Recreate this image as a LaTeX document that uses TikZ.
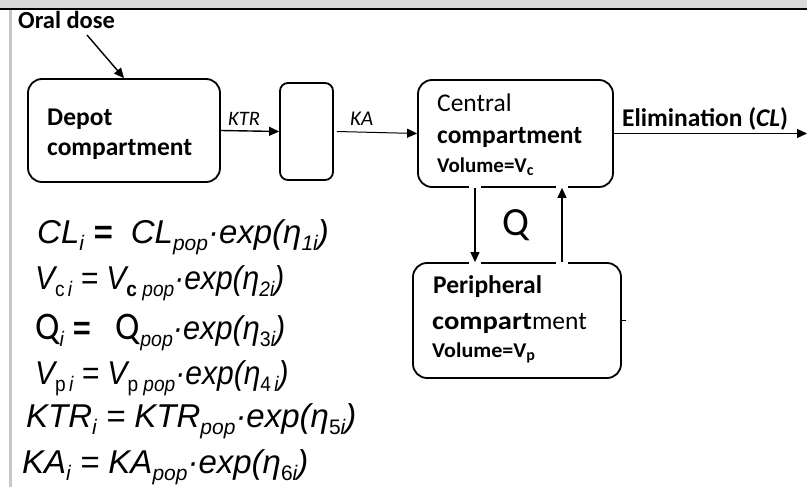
\documentclass[tikz,border=0pt]{standalone}
\usepackage{fontspec}
\usepackage{graphicx}
\setmainfont{Carlito}
\newfontfamily\arialf{Liberation Sans}
\usetikzlibrary{arrows.meta}
\newcommand\esub[1]{\raisebox{-7pt}{\fontsize{21}{21}\selectfont #1}}
\newcommand\vsub[1]{\raisebox{-3pt}{\fontsize{16}{16}\selectfont #1}}
\begin{document}
\begin{tikzpicture}[x=1pt,y=-1pt,
  box/.style={draw=black, line width=1.8pt, rounded corners=14pt, inner sep=0pt},
  arr/.style={line width=1.4pt, -{Triangle[length=10pt,width=9pt]}},
  lbl/.style={anchor=base west, inner sep=0pt},
  bigb/.style={font=\bfseries\fontsize{25.5}{28}\selectfont},
  bigr/.style={font=\fontsize{25.5}{28}\selectfont},
  vol/.style={font=\bfseries\fontsize{21}{24}\selectfont},
  eqn/.style={anchor=base west, inner sep=0pt, font=\arialf\itshape\fontsize{33}{36}\selectfont},
]
\useasboundingbox (0,0) rectangle (807,487);
\fill[white] (0,0) rectangle (807,487);
\fill[black!15] (0,0) rectangle (807,8);
\draw[line width=2pt] (0,9) -- (807,9);
\draw[black!22, line width=3pt] (10,10) -- (10,487);

% boxes
\node[box, minimum width=192pt, minimum height=103pt] (depot) at (124,130.5) {};
\node[box, rounded corners=8pt, minimum width=53pt, minimum height=97pt] (trans) at (306.5,131.5) {};
\node[box, minimum width=195pt, minimum height=107pt] (central) at (515.5,133.5) {};
\node[box, minimum width=208pt, minimum height=115pt] (periph) at (517,320.5) {};

% texts
\node[lbl, font=\bfseries\fontsize{24.5}{28}\selectfont] (oral) at (18,29) {Oral dose};
\node[lbl, bigb] (dep1) at (47,125) {Depot};
\node[lbl, bigb] (dep2) at (47,156) {compartment};
\node[lbl, font=\itshape\fontsize{20.5}{24}\selectfont] (ktr) at (228,125) {KTR};
\node[lbl, font=\itshape\fontsize{21}{24}\selectfont] (ka) at (350,125) {KA};
\node[lbl, bigr] (cen1) at (437,112) {Central};
\node[lbl, bigb] (cen2) at (437,143) {compartment};
\node[lbl, vol] (cen3) at (437,172) {Volume=V\vsub{c}};
\node[lbl, bigb] (elim) at (622,127) {Elimination (\textit{CL})};
\node[lbl, font=\fontsize{40}{44}\selectfont] (qlbl) at (502,235) {Q};
\node[lbl, bigb] (per1) at (433,293) {Peripheral};
\node[lbl, bigr] (per2) at (432,329) {\textbf{\scalebox{1.12}[1]{compart}}ment};
\node[lbl, vol] (per3) at (432,357) {\scalebox{1.05}[1]{Volume=V}\vsub{p}};

% connectors
\coordinate (od) at (87,35);
\draw[arr] (od) -- (depot.north);
\draw[arr] (depot.east) -- (trans.west);
\draw[arr, line width=1pt] ([xshift=3pt]trans.east) -- (central.west);
\coordinate (elimend) at (807,133.5);
\draw[arr] (central.east) -- (elimend);

\coordinate (qd) at (475,0);
\coordinate (qu) at (562,0);
\fill[white] (469,183) rectangle (481,191);
\fill[white] (556,183) rectangle (568,191);
\fill[white] (469,259) rectangle (481,267);
\fill[white] (556,259) rectangle (568,267);
\draw[arr, line width=1.2pt] (central.south -| qd) -- (periph.north -| qd);
\draw[arr, line width=1.2pt] (periph.north -| qu) -- (central.south -| qu);
\draw[line width=1.2pt] (periph.east) -- ++(4,0);

% equations
\node[eqn] (eq1) at (37,243) {CL\esub{i} \textbf{=}\ \ CL\esub{pop}·exp(η\esub{1i})};
\node[eqn] (eq2) at (35,289) {\scalebox{0.91}[1]{V\esub{\upshape c\,\itshape i} = V\esub{\upshape\bfseries c \mdseries\itshape pop}·exp(η\esub{2i})}};
\node[eqn] (eq3) at (35,339) {\scalebox{0.93}[1]{{\upshape\rmfamily\fontsize{39}{40}\selectfont Q}\esub{i} \textbf{=}\ \ \ {\upshape\rmfamily\fontsize{39}{40}\selectfont Q}\esub{pop}·exp(η\esub{\upshape 3\itshape i})}};
\node[eqn] (eq4) at (35,384) {\scalebox{0.91}[1]{V\esub{\upshape p\,\itshape i} = V\esub{\upshape p \itshape pop}·exp(η\esub{\upshape 4\,\itshape i})}};
\node[eqn] (eq5) at (26,427) {KTR\esub{i} = KTR\esub{pop}·exp(η\esub{\upshape 5\itshape i})};
\node[eqn] (eq6) at (22,473) {KA\esub{i} = KA\esub{pop}·exp(η\esub{\upshape 6\itshape i})};
\end{tikzpicture}
\end{document}
